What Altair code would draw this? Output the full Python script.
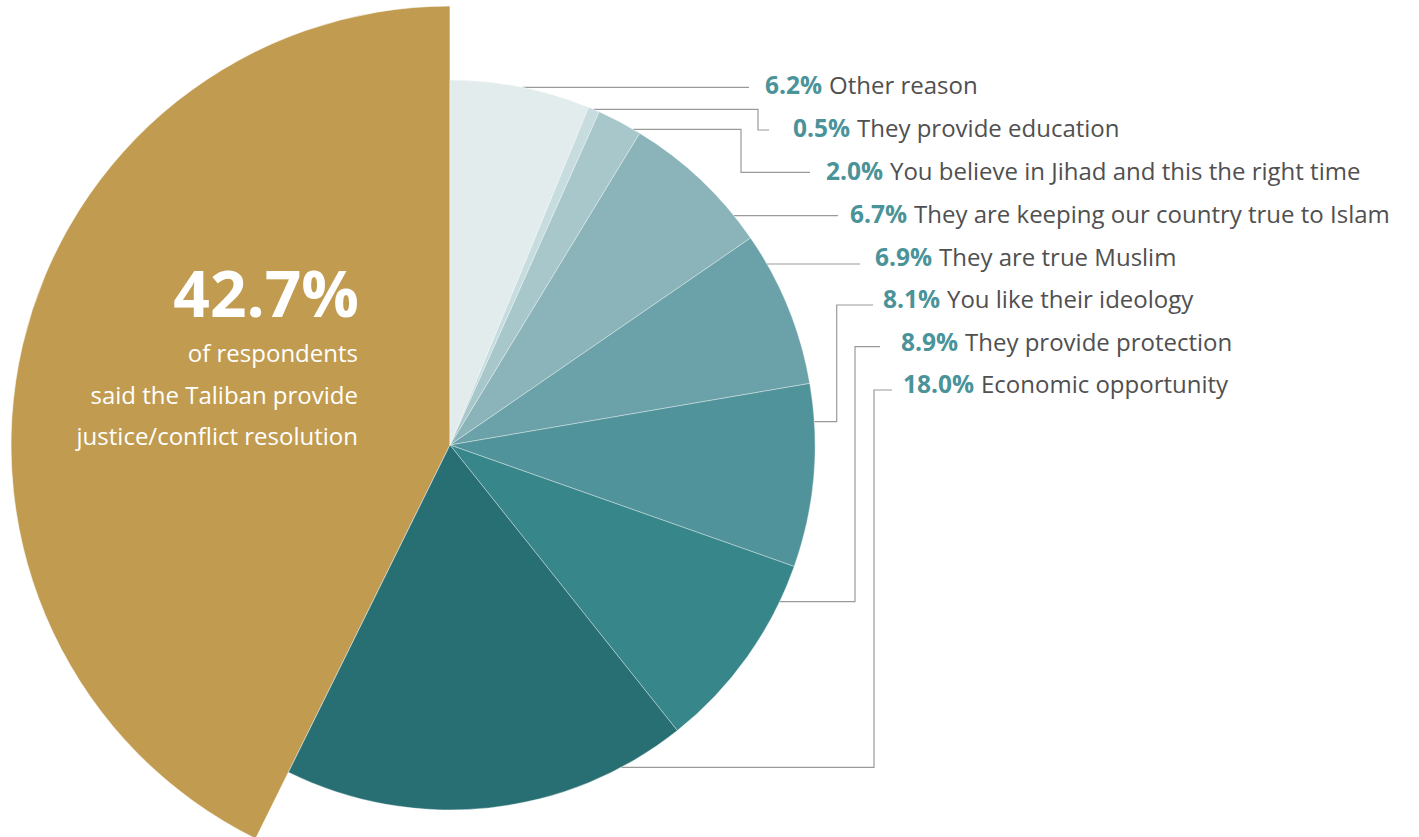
import math
import altair as alt
import pandas as pd

# ---------------- data ----------------
labels = [
    "Other reason",
    "They provide education",
    "You believe in Jihad and this the right time",
    "They are keeping our country true to Islam",
    "They are true Muslim",
    "You like their ideology",
    "They provide protection",
    "Economic opportunity",
    "Justice/conflict resolution",
]
values = [6.2, 0.5, 2.0, 6.7, 6.9, 8.1, 8.9, 18.0, 42.7]
colors = ["#E2ECEC", "#C6DCDF", "#A7C7CB", "#8AB4B9", "#6BA2A9",
          "#50939A", "#36868A", "#286F74", "#C19C50"]
headline_lines = ["of respondents", "said the Taliban provide", "justice/conflict resolution"]

# ---------------- layout ----------------
W, H = 1419, 837
CX, CY = 450, 445
R_MAIN, R_OTHER = 439, 365
FONT = "Open Sans"
row_y = [87, 130, 173, 216, 259, 301, 344, 386]
desc_x = [829, 857, 890, 914, 939, 947, 965, 981]
line_end_x = [749, 769, 810, 838, 860, 873, 880, 892]
line_row_y = [87.3, 130, 172.3, 215.7, 264, 305, 346.7, 390]
pie_y = [87.3, 109.3, 129.3, 215.7, 264, 421.7, 601.7, 767.3]
elbow_x = [None, 758, 741, None, None, 836.7, 855, 874]

pie_df = pd.DataFrame({
    "label": labels,
    "value": values,
    "idx": list(range(len(labels))),
    "main": [v == max(values) for v in values],
})

# leader lines (start on the pie edge at the anchor height)
pts = []
for i in range(len(labels) - 1):
    py = pie_y[i]
    sx = CX + math.sqrt(R_OTHER ** 2 - (py - CY) ** 2)
    path = [(sx, py)]
    if elbow_x[i] is not None:
        path += [(elbow_x[i], py), (elbow_x[i], line_row_y[i])]
    path.append((line_end_x[i], line_row_y[i]))
    for k, (x, y) in enumerate(path):
        pts.append({"slice": labels[i], "k": k, "x": x, "y": y})
lines_df = pd.DataFrame(pts)

lab_df = pd.DataFrame({
    "pct": [f"{v:.1f}%" for v in values[:-1]],
    "desc": labels[:-1],
    "px": [x - 7 for x in desc_x],
    "dx": desc_x,
    "y": row_y,
})

big_df = pd.DataFrame({"t": [f"{values[-1]:.1f}%"], "x": [359], "y": [298]})
sub_df = pd.DataFrame({"t": headline_lines, "x": [358] * 3, "y": [355, 397, 438]})

X = alt.X("x:Q", scale=alt.Scale(domain=[0, W], nice=False, zero=False), axis=None)
Y = alt.Y("y:Q", scale=alt.Scale(domain=[0, H], nice=False, zero=False, reverse=True), axis=None)

lines = alt.Chart(lines_df).mark_line(color="#9a9a9a", strokeWidth=1.2).encode(
    x=X, y=Y, detail="slice:N", order="k:Q"
)

color_enc = alt.Color("label:N", scale=alt.Scale(domain=labels, range=colors), legend=None)

pie_main = alt.Chart(pie_df).mark_arc(
    outerRadius=R_MAIN, stroke="white", strokeWidth=0.6
).encode(
    theta=alt.Theta("value:Q", stack=True),
    order=alt.Order("idx:Q"),
    color=color_enc,
    opacity=alt.condition("datum.main", alt.value(1), alt.value(0)),
    x=alt.value(CX), y=alt.value(CY),
)

pie_other = alt.Chart(pie_df).mark_arc(
    outerRadius=R_OTHER, stroke="white", strokeWidth=0.6, strokeOpacity=0.6
).encode(
    theta=alt.Theta("value:Q", stack=True),
    order=alt.Order("idx:Q"),
    color=color_enc,
    opacity=alt.condition("datum.main", alt.value(0), alt.value(1)),
    x=alt.value(CX), y=alt.value(CY),
)

pct = alt.Chart(lab_df).mark_text(
    align="right", baseline="middle", font=FONT, fontSize=24.5, fontWeight="bold", color="#4A9399"
).encode(x=alt.X("px:Q", scale=alt.Scale(domain=[0, W], nice=False, zero=False), axis=None), y=Y, text="pct:N")

desc = alt.Chart(lab_df).mark_text(
    align="left", baseline="middle", font=FONT, fontSize=24, color="#505050"
).encode(x=alt.X("dx:Q", scale=alt.Scale(domain=[0, W], nice=False, zero=False), axis=None), y=Y, text="desc:N")

big = alt.Chart(big_df).mark_text(
    align="right", baseline="middle", font=FONT, fontSize=64, fontWeight="bold", color="white"
).encode(x=X, y=Y, text="t:N")

sub = alt.Chart(sub_df).mark_text(
    align="right", baseline="middle", font=FONT, fontSize=24, color="white"
).encode(x=X, y=Y, text="t:N")

chart = alt.layer(lines, pie_main, pie_other, pct, desc, big, sub).properties(
    width=W, height=H, padding=0, autosize=alt.AutoSizeParams(type="none")
).configure_view(stroke=None)

chart.save("out.html", embed_options={"renderer": "svg", "actions": False})
